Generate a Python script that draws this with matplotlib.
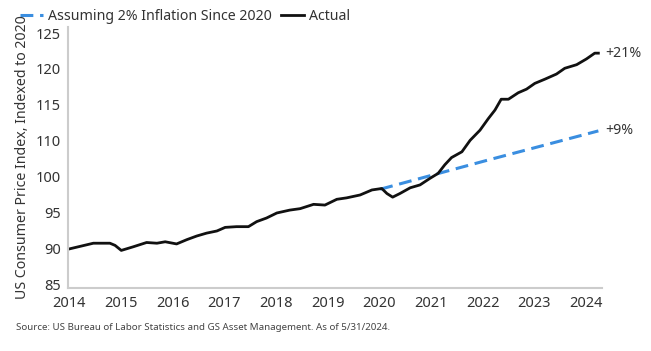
import matplotlib
matplotlib.use("Agg")
import matplotlib.pyplot as plt

# ---- data (y in axis-position units) ----
actual_x = [2014.00, 2014.47, 2014.79, 2014.89, 2015.01, 2015.24, 2015.50, 2015.70,
            2015.86, 2016.08, 2016.28, 2016.47, 2016.66, 2016.86, 2017.02, 2017.24,
            2017.47, 2017.63, 2017.82, 2018.02, 2018.27, 2018.47, 2018.73, 2018.95,
            2019.18, 2019.37, 2019.63, 2019.86, 2020.05, 2020.15, 2020.26, 2020.40,
            2020.60, 2020.79, 2020.98, 2021.14, 2021.27, 2021.40, 2021.60, 2021.76,
            2021.95, 2022.11, 2022.24, 2022.36, 2022.50, 2022.69, 2022.85, 2023.01,
            2023.21, 2023.43, 2023.59, 2023.82, 2024.01, 2024.17, 2024.24]
actual_y = [90.0, 90.8, 90.8, 90.5, 89.8, 90.3, 90.9, 90.8,
            91.0, 90.7, 91.3, 91.8, 92.2, 92.5, 93.0, 93.1,
            93.1, 93.8, 94.3, 95.0, 95.4, 95.6, 96.2, 96.1,
            96.9, 97.1, 97.5, 98.2, 98.4, 97.7, 97.2, 97.7,
            98.5, 98.9, 99.8, 100.5, 101.7, 102.7, 103.5, 105.1,
            106.5, 108.1, 109.3, 110.8, 110.8, 111.7, 112.2, 113.0,
            113.6, 114.3, 115.1, 115.6, 116.4, 117.2, 117.2]

assumed_x = [2020.02, 2020.79, 2022.13, 2024.24]
assumed_y = [98.3, 99.8, 102.4, 106.4]

ytick_pos = [85, 90, 95, 100, 105, 110, 115, 120]
ytick_labels = ["85", "90", "95", "100", "110", "115", "120", "125"]
xticks = list(range(2014, 2025))

label_assumed = "Assuming 2% Inflation Since 2020"
label_actual = "Actual"
end_labels = ["+21%", "+9%"]
source = "Source: US Bureau of Labor Statistics and GS Asset Management. As of 5/31/2024."

plt.rcParams['font.family'] = ['Noto Sans', 'DejaVu Sans']

fig = plt.figure(figsize=(6.51, 3.51), dpi=100)
ax = fig.add_axes([0.1045, 0.1795, 0.8202, 0.7435])

ln_a, = ax.plot(assumed_x, assumed_y, color="#3a8ee0", lw=2.2,
                dashes=(4.2, 2.2), label=label_assumed, solid_capstyle="butt")
ln_b, = ax.plot(actual_x, actual_y, color="#111111", lw=2.0, label=label_actual,
                solid_joinstyle="round")

ax.set_xlim(2013.98, 2024.31)
ax.set_ylim(84.58, 120.83)
ax.set_xticks(xticks)
ax.set_xticklabels([str(t) for t in xticks])
ax.set_yticks(ytick_pos)
ax.set_yticklabels(ytick_labels)
ax.tick_params(axis="both", length=0, labelsize=10.5, colors="#333333")
ax.tick_params(axis="y", pad=5)
ax.tick_params(axis="x", pad=6)

for s in ["top", "right"]:
    ax.spines[s].set_visible(False)
for s in ["left", "bottom"]:
    ax.spines[s].set_color("#cccccc")
    ax.spines[s].set_linewidth(1.5)

ax.set_ylabel("US Consumer Price Index, Indexed to 2020", fontsize=10.2,
              color="#333333", labelpad=4)

ax.annotate(end_labels[0], xy=(actual_x[-1], actual_y[-1]), xytext=(5, 0),
            textcoords="offset points", va="center", ha="left",
            fontsize=10.2, color="#333333")
ax.annotate(end_labels[1], xy=(assumed_x[-1], assumed_y[-1]), xytext=(5, 0),
            textcoords="offset points", va="center", ha="left",
            fontsize=10.2, color="#333333")

fig.legend(handles=[ln_a, ln_b], loc="center left",
           bbox_to_anchor=(20 / 651, 1 - 16 / 351), ncol=2, frameon=False,
           fontsize=10.2, handlelength=1.6, handletextpad=0.35,
           columnspacing=0.7, labelcolor="#333333", borderaxespad=0,
           borderpad=0)

fig.text(16 / 651, 1 - 327 / 351, source, fontsize=7.0, color="#444444",
         va="center", ha="left")

fig.savefig("out.png", dpi=100)
